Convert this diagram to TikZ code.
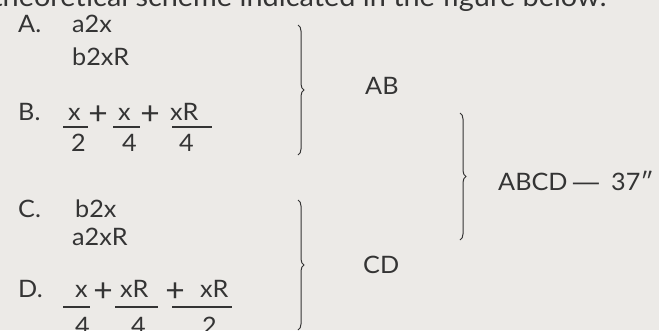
\documentclass[tikz,border=0pt]{standalone}
\usepackage{fontspec}
\setmainfont{Lato}[FakeStretch=1.05]
\newfontfamily\dashfont{DejaVu Sans}[FakeStretch=1.2]
\usetikzlibrary{decorations.pathreplacing}
\definecolor{paper}{RGB}{236,234,231}
\definecolor{ink}{RGB}{52,52,52}
\tikzset{
  txt/.style={anchor=base west, inner sep=0pt, text=ink, font=\fontsize{24}{28}\selectfont},
  txte/.style={txt, anchor=base east},
  plusn/.style={anchor=center, inner sep=0pt, text=ink, font=\fontsize{32}{36}\selectfont},
  fbar/.style={draw=ink, line width=1.1pt},
  bracel/.style={draw=ink, line width=1pt, decorate, decoration={brace, amplitude=6pt}}
}
\begin{document}
\begin{tikzpicture}[x=1pt,y=-1pt]
\useasboundingbox (0,0) rectangle (659,330);
\fill[paper] (0,0) rectangle (659,330);
\clip (0,0) rectangle (659,330);
% top cut-off line
\node[txte, font=\fontsize{27.5}{30}\selectfont] (top) at (607,6) {theoretical scheme indicated in the figure below:};
% A
\node[txt] (Alab) at (18,32) {A.};
\node[txt] (A1) at (72,32) {a2x};
\node[txt] (A2) at (72,65) {b2xR};
% B
\node[txt] (Blab) at (18,120) {B.};
\node[txt] (Bn1) at (68,120) {x};
\node[plusn] (Bp1) at (98,115) {+};
\node[txt] (Bn2) at (118,120) {x};
\node[plusn] (Bp2) at (150,115) {+};
\node[txt] (Bn3) at (170,120) {xR};
\coordinate (Bb1l) at (63,127); \coordinate (Bb1r) at (88,127);
\coordinate (Bb2l) at (113,127); \coordinate (Bb2r) at (140,127);
\coordinate (Bb3l) at (172,127); \coordinate (Bb3r) at (212,127);
\draw[fbar] (Bb1l) -- (Bb1r);
\draw[fbar] (Bb2l) -- (Bb2r);
\draw[fbar] (Bb3l) -- (Bb3r);
\node[txt] (Bd1) at (71,151) {2};
\node[txt] (Bd2) at (122,151) {4};
\node[txt] (Bd3) at (179,151) {4};
% C
\node[txt] (Clab) at (18,217) {C.};
\node[txt] (C1) at (75,217) {b2x};
\node[txt] (C2) at (72,245) {a2xR};
% D
\node[txt] (Dlab) at (18,297) {D.};
\node[txt] (Dn1) at (75,297) {x};
\node[plusn] (Dp1) at (103,292) {+};
\node[txt] (Dn2) at (120,297) {xR};
\node[plusn] (Dp2) at (175,292) {+};
\node[txt] (Dn3) at (200,297) {xR};
\coordinate (Db1l) at (63,307); \coordinate (Db1r) at (90,307);
\coordinate (Db2l) at (115,307); \coordinate (Db2r) at (158,307);
\coordinate (Db3l) at (172,307); \coordinate (Db3r) at (232,307);
\draw[fbar] (Db1l) -- (Db1r);
\draw[fbar] (Db2l) -- (Db2r);
\draw[fbar] (Db3l) -- (Db3r);
\node[txt] (Dd1) at (75,334) {4};
\node[txt] (Dd2) at (131,334) {4};
\node[txt] (Dd3) at (202,334) {2};
% braces
\coordinate (br1t) at (298,25);  \coordinate (br1b) at (298,155);
\coordinate (br2t) at (298,200); \coordinate (br2b) at (298,330);
\coordinate (br3t) at (460,113); \coordinate (br3b) at (460,240);
\draw[bracel] (br1t) -- (br1b);
\draw[bracel] (br2t) -- (br2b);
\draw[bracel] (br3t) -- (br3b);
\node[txt] (AB) at (365,94) {AB};
\node[txt] (CD) at (363,273) {CD};
\node[txt] (ABCD) at (498,190) {ABCD\,{\dashfont —}\hspace{0.45em}37″};
\end{tikzpicture}
\end{document}
